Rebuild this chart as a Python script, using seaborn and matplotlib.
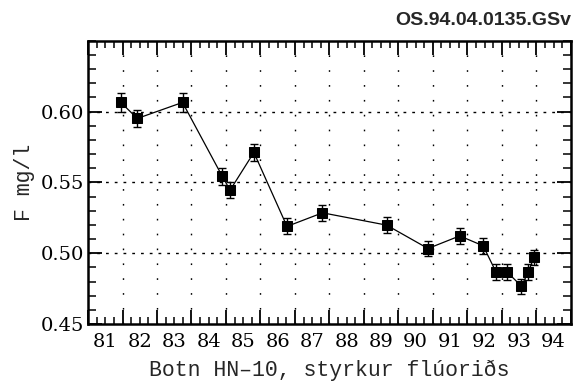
import numpy as np
import pandas as pd
import matplotlib
matplotlib.use("Agg")
import matplotlib.pyplot as plt
from matplotlib.ticker import FixedLocator, FuncFormatter, MultipleLocator
import seaborn as sns

# Sampling dates (decimal years) and fluoride concentration in mg/l
years = [81.95, 82.43, 83.74, 84.89, 85.12, 85.81, 86.77, 87.80, 89.66,
         90.86, 91.78, 92.46, 92.83, 93.15, 93.57, 93.77, 93.93]
fluoride = [0.6065, 0.5952, 0.6065, 0.5545, 0.5446, 0.5712, 0.5190, 0.5286,
            0.5199, 0.5034, 0.5123, 0.5053, 0.4869, 0.4869, 0.4768, 0.4869,
            0.4971]
uncertainty = [0.0065, 0.0063, 0.0065, 0.0060, 0.0059, 0.0062, 0.0057, 0.0058,
               0.0057, 0.0055, 0.0056, 0.0055, 0.0054, 0.0054, 0.0053, 0.0054,
               0.0055]

year_labels = [str(y) for y in range(81, 95)]
y_ticks = [0.45, 0.50, 0.55, 0.60]

df = pd.DataFrame({"year": years, "F": fluoride, "err": uncertainty})

sns.set_style("ticks")
plt.rcParams["font.family"] = ["DejaVu Serif"]

fig = plt.figure(figsize=(5.83, 3.85), dpi=100)
ax = fig.add_axes([0.151, 0.158, 0.828, 0.736])

ax.errorbar(df["year"], df["F"], yerr=df["err"], fmt="none", ecolor="black",
            elinewidth=1.0, capsize=3.2, capthick=1.0, zorder=3)
sns.lineplot(data=df, x="year", y="F", ax=ax, color="black", linewidth=0.9,
             marker="s", markersize=6.5, markeredgecolor="black",
             markerfacecolor="black", sort=False, zorder=4)

ax.set_xlim(81, 95)
ax.set_ylim(0.45, 0.65)

# year boundaries as major ticks, quarters as minor ticks; labels sit mid-year
ax.xaxis.set_major_locator(FixedLocator(np.arange(81, 96)))
ax.xaxis.set_major_formatter(FuncFormatter(lambda v, p: ""))
quarters = [y + q for y in range(81, 95) for q in (0.25, 0.5, 0.75)]
ax.xaxis.set_minor_locator(FixedLocator(quarters))
label_map = {round(81.5 + i, 2): lab for i, lab in enumerate(year_labels)}
ax.xaxis.set_minor_formatter(
    FuncFormatter(lambda v, p: label_map.get(round(v, 2), "")))

ax.yaxis.set_major_locator(FixedLocator(y_ticks))
ax.yaxis.set_major_formatter(FuncFormatter(lambda v, p: f"{v:.2f}"))
ax.yaxis.set_minor_locator(MultipleLocator(0.01))

ax.tick_params(axis="both", which="both", direction="in", top=True,
               right=True, colors="black", labelsize=14)
ax.tick_params(axis="x", which="major", length=10, width=1.3)
ax.tick_params(axis="x", which="minor", length=5, width=1.1, pad=6)
ax.tick_params(axis="y", which="major", length=10, width=1.3, pad=3)
ax.tick_params(axis="y", which="minor", length=6, width=1.1)

for s in ax.spines.values():
    s.set_linewidth(1.8)
    s.set_color("black")

# dotted grid: vertical at year boundaries, horizontal at labelled values
for yr in range(82, 95):
    ax.axvline(yr, color="black", linewidth=1.0, linestyle=(0, (1.2, 9.5)),
               zorder=1)
for v in [0.50, 0.55, 0.60]:
    ax.axhline(v, color="black", linewidth=1.0, linestyle=(0, (2.0, 4.3)),
               zorder=1)

ax.set_xlabel("Botn HN\u201310, styrkur flúoriðs", fontsize=15.5,
              family=["Liberation Mono"], labelpad=7)
ax.set_ylabel("F mg/l", fontsize=15.5, family=["Liberation Mono"],
              labelpad=4)

fig.text(0.979, 1 - 25 / 385, "OS.94.04.0135.GSv", ha="right",
         va="baseline", fontsize=14, fontweight="bold",
         family=["Liberation Sans"])

fig.savefig("out.png", dpi=100, facecolor="white")
